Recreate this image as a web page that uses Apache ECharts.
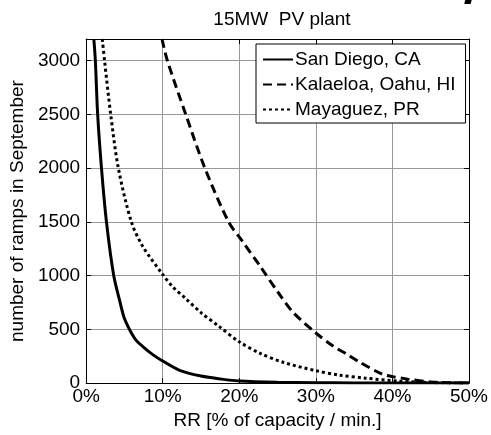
<!DOCTYPE html>
<html lang="en" style="height: 100%">
<head>
<meta charset="utf-8">
<title>15MW PV plant ramps</title>
</head>
<body style="height: 100%; margin: 0; background: #fff">
<div id="container" style="height: 100%"></div>
<script type="text/javascript" src="https://cdn.jsdelivr.net/npm/echarts/dist/echarts.min.js"></script>
<script type="text/javascript">
// ramp rate (% of capacity / min.) and number of ramps
var sanDiegoRR = [1.0, 1.2, 1.5, 2.0, 2.65, 3.6, 4.4, 5.0, 5.8, 6.5, 7.4, 8.7, 10, 12.2, 15, 17.7, 20, 25, 30, 35, 40, 45, 50];
var sanDiegoN = [3200, 3000, 2500, 2000, 1500, 1000, 760, 600, 480, 400, 340, 265, 205, 119, 66, 37, 20, 8, 3, 2, 1, 0, 0];

var kalaeloaRR = [9.9, 10.6, 13, 15.5, 18.6, 20.4, 22.8, 25, 27, 30, 32.2, 34, 35.6, 38.6, 40, 42, 45, 50];
var kalaeloaN = [3200, 3000, 2500, 2000, 1500, 1320, 1079, 850, 660, 466, 347, 270, 200, 85, 60, 37, 10, 0];

var mayaguezRR = [2.1, 2.4, 3.2, 4.2, 5.9, 7.4, 10, 11.3, 13, 15.1, 17.3, 20, 22.8, 25.8, 30, 33, 36.5, 40.8, 45, 50];
var mayaguezN = [3200, 3000, 2500, 2000, 1500, 1270, 1010, 896, 786, 649, 530, 384, 274, 192, 115, 75, 46, 18, 5, 0];

var xTicks = [0, 10, 20, 30, 40, 50];

function pairs(xs, ys) {
    return xs.map(function (x, i) { return [x, ys[i]]; });
}

var font = 'Liberation Sans, Arial, sans-serif';

var dom = document.getElementById('container');
var myChart = echarts.init(dom, null, { width: 491, height: 435 });

var frameAxis = {
    axisLine: { show: true, onZero: false, lineStyle: { color: '#000', width: 1 } },
    axisTick: { show: true, inside: true, length: 5, lineStyle: { color: '#000' } },
    axisLabel: { show: false },
    splitLine: { show: false }
};

option = {
    animation: false,
    textStyle: { fontFamily: font },
    title: {
        text: '15MW  PV plant',
        left: 277,
        top: 5,
        textAlign: 'center',
        textStyle: { fontSize: 19, fontWeight: 'normal', color: '#000', fontFamily: font }
    },
    graphic: [{
        type: 'text',
        right: 6,
        top: -30,
        style: { text: '7', fontSize: 44, fontWeight: 'bold', fontStyle: 'italic', fill: '#000', font: 'italic bold 44px ' + font }
    }],
    legend: {
        orient: 'vertical',
        left: 256,
        top: 44,
        padding: [6, 10, 4, 6],
        itemGap: 6,
        itemWidth: 30,
        itemHeight: 14,
        backgroundColor: '#fff',
        borderColor: '#000',
        borderWidth: 1,
        borderRadius: 0,
        itemStyle: { opacity: 0 },
        textStyle: { fontSize: 19, color: '#000', lineHeight: 19, fontFamily: font, padding: [0, 0, 0, -3] },
        data: ['San Diego, CA', 'Kalaeloa, Oahu, HI', 'Mayaguez, PR']
    },
    grid: { left: 82, right: 19, top: 39, bottom: 47 },
    xAxis: [{
        type: 'value',
        min: xTicks[0],
        max: xTicks[xTicks.length - 1],
        interval: 10,
        name: 'RR [% of capacity / min.]',
        nameLocation: 'middle',
        nameGap: 24,
        nameTextStyle: { fontSize: 19, color: '#000' },
        axisLine: { show: true, onZero: false, lineStyle: { color: '#000', width: 1 } },
        axisTick: { show: true, inside: true, length: 5, lineStyle: { color: '#000' } },
        axisLabel: { color: '#000', fontSize: 19, margin: 4, formatter: '{value}%' },
        splitLine: { show: true, lineStyle: { color: '#999', width: 1 } }
    }, Object.assign({ type: 'value', position: 'top', min: 0, max: 50, interval: 10 }, frameAxis)],
    yAxis: [{
        type: 'value',
        min: 0,
        max: 3200,
        interval: 500,
        name: 'number of ramps in September',
        nameLocation: 'middle',
        nameGap: 57,
        nameTextStyle: { fontSize: 19, color: '#000' },
        axisLine: { show: true, onZero: false, lineStyle: { color: '#000', width: 1 } },
        axisTick: { show: true, inside: true, length: 5, lineStyle: { color: '#000' } },
        axisLabel: {
            color: '#000', fontSize: 19, margin: 6, showMaxLabel: false,
            formatter: function (v) { return String(v); }
        },
        splitLine: { show: true, lineStyle: { color: '#999', width: 1 } }
    }, Object.assign({ type: 'value', position: 'right', min: 0, max: 3200, interval: 500 }, frameAxis)],
    series: [{
        name: 'San Diego, CA',
        type: 'line',
        symbol: 'none',
        smooth: 0.3,
        data: pairs(sanDiegoRR, sanDiegoN),
        lineStyle: { color: '#000', width: 3, type: 'solid' },
        itemStyle: { color: '#000' }
    }, {
        name: 'Kalaeloa, Oahu, HI',
        type: 'line',
        symbol: 'none',
        smooth: 0.3,
        data: pairs(kalaeloaRR, kalaeloaN),
        lineStyle: { color: '#000', width: 3, type: [9, 5] },
        itemStyle: { color: '#000' }
    }, {
        name: 'Mayaguez, PR',
        type: 'line',
        symbol: 'none',
        smooth: 0.3,
        data: pairs(mayaguezRR, mayaguezN),
        lineStyle: { color: '#000', width: 3, type: [3, 3] },
        itemStyle: { color: '#000' }
    }]
};

if (option && typeof option === 'object') {
    myChart.setOption(option);
}
window.addEventListener('resize', myChart.resize);
</script>
</body>
</html>
